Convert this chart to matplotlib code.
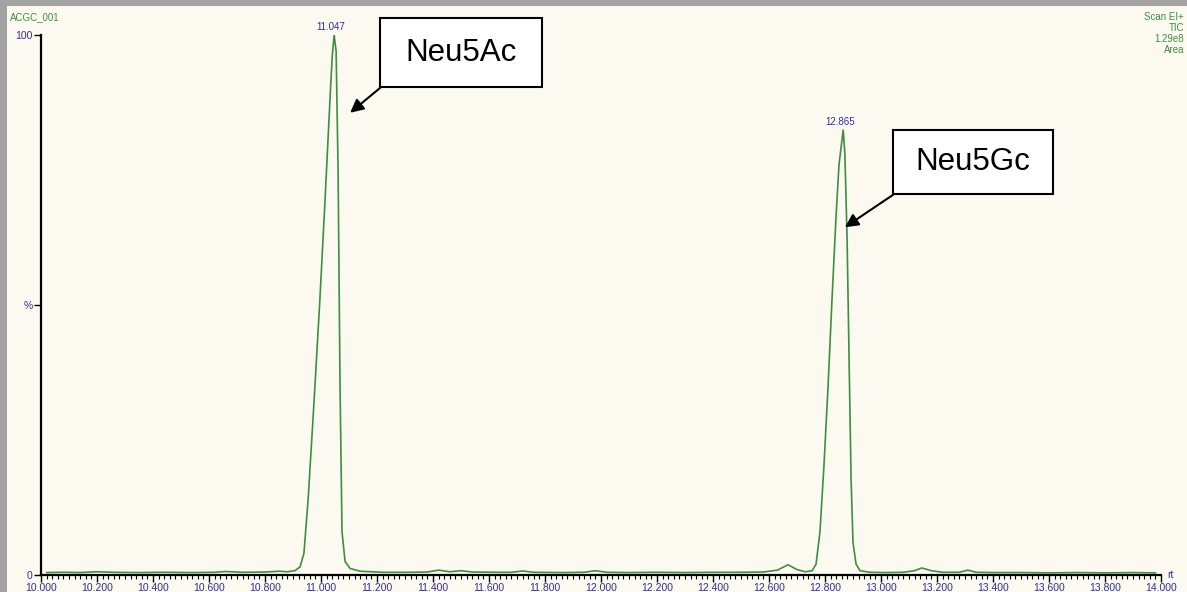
import numpy as np
import matplotlib
matplotlib.use("Agg")
import matplotlib.pyplot as plt
from matplotlib.patches import Rectangle
from matplotlib.ticker import MultipleLocator, FuncFormatter

# TIC trace, retention time (min) vs relative intensity (%)
rt = [10.02, 10.08, 10.14, 10.20, 10.26, 10.34, 10.44, 10.54, 10.62, 10.66,
      10.72, 10.80, 10.85, 10.88, 10.907, 10.925, 10.939, 10.954, 10.975, 10.996,
      11.014, 11.032, 11.040, 11.047, 11.054, 11.061, 11.068, 11.075, 11.086, 11.104,
      11.14, 11.22, 11.32, 11.38, 11.42, 11.46, 11.50, 11.54, 11.62, 11.68,
      11.72, 11.76, 11.86, 11.94, 11.98, 12.02, 12.10, 12.20, 12.30, 12.40,
      12.50, 12.58, 12.63, 12.668, 12.70, 12.73, 12.754, 12.768, 12.782, 12.796,
      12.811, 12.825, 12.839, 12.850, 12.865, 12.871, 12.879, 12.886, 12.893, 12.900,
      12.911, 12.925, 12.96, 13.02, 13.08, 13.12, 13.146, 13.18, 13.22, 13.28,
      13.31, 13.34, 13.40, 13.50, 13.60, 13.70, 13.80, 13.90, 13.98]
tic = [0.45, 0.5, 0.45, 0.6, 0.5, 0.45, 0.5, 0.45, 0.5, 0.65,
       0.5, 0.55, 0.7, 0.6, 0.8, 1.5, 4.0, 14.0, 32.0, 51.0,
       69.0, 88.0, 96.0, 100.0, 97.0, 75.0, 35.0, 8.0, 2.5, 1.2,
       0.7, 0.5, 0.5, 0.55, 0.9, 0.6, 0.8, 0.55, 0.5, 0.5,
       0.75, 0.5, 0.45, 0.5, 0.8, 0.5, 0.45, 0.5, 0.45, 0.5,
       0.5, 0.55, 0.9, 1.9, 1.0, 0.6, 0.8, 2.0, 8.0, 20.0,
       35.0, 51.0, 66.0, 76.0, 82.4, 78.0, 62.0, 40.0, 18.0, 6.0,
       2.0, 0.8, 0.5, 0.45, 0.5, 0.8, 1.3, 0.8, 0.5, 0.5,
       0.9, 0.5, 0.45, 0.45, 0.4, 0.45, 0.4, 0.45, 0.4]

# labelled peaks: apex time, apex height, compound name
peak_rt = [11.047, 12.865]
peak_height = [100.0, 82.4]
peak_names = ["Neu5Ac", "Neu5Gc"]
# label boxes (x0, x1, y_bottom, y_top) in data units, and arrow tips
box_extent = [(11.211, 11.789, 90.4, 103.1), (13.043, 13.614, 70.6, 82.4)]
arrow_tip = [(11.104, 85.6), (12.871, 64.4)]

header_right = ["Scan EI+", "TIC", "1.29e8", "Area"]

W, H = 1187, 592
BG = "#fcfaf0"
GREEN = "#3d8f3d"
BLUE = "#2e2e9e"

fig = plt.figure(figsize=(W / 100, H / 100), dpi=100, facecolor=BG)
ax = fig.add_axes([41 / W, 1 - 575 / H, 1120 / W, 540 / H])
ax.set_facecolor(BG)

ax.plot(rt, tic, color=GREEN, lw=1.2)

ax.set_xlim(10.0, 14.0)
ax.set_ylim(0, 100)
for s in ("top", "right"):
    ax.spines[s].set_visible(False)
for s in ("left", "bottom"):
    ax.spines[s].set_linewidth(1.6)
    ax.spines[s].set_color("black")

ax.xaxis.set_major_locator(MultipleLocator(0.2))
ax.xaxis.set_minor_locator(MultipleLocator(0.02))
ax.xaxis.set_major_formatter(FuncFormatter(lambda v, p: f"{v:.3f}"))
ax.set_yticks([0, 50, 100])
ax.set_yticklabels(["0", "%", "100"])
ax.tick_params(axis="x", which="major", length=5, width=1, pad=1,
               labelsize=7.5, labelcolor=BLUE)
ax.tick_params(axis="x", which="minor", length=3, width=0.8)
ax.tick_params(axis="y", length=5, width=1, pad=1, labelsize=7.5, labelcolor=BLUE)
for lab in ax.get_xticklabels() + ax.get_yticklabels():
    lab.set_fontfamily("Liberation Sans")

# peak apex labels
for x, y in zip(peak_rt, peak_height):
    ax.text(x - 0.012, y + 0.6, f"{x:.3f}", ha="center", va="bottom",
            fontsize=7, color=BLUE, family="Liberation Sans", clip_on=False)

# compound boxes with arrows
for name, (x0, x1, y0, y1), tip in zip(peak_names, box_extent, arrow_tip):
    ax.add_patch(Rectangle((x0, y0), x1 - x0, y1 - y0, facecolor="white",
                           edgecolor="black", lw=1.5, clip_on=False, zorder=5))
    ax.text((x0 + x1) / 2, (y0 + y1) / 2, name, ha="center", va="center",
            fontsize=22.5, family="Liberation Sans", zorder=6, clip_on=False)
    ax.annotate("", xy=tip, xytext=(x0, y0 - 0.2),
                arrowprops=dict(arrowstyle="-|>", color="black", lw=1.5,
                                mutation_scale=20, shrinkA=0, shrinkB=0),
                zorder=6, annotation_clip=False)

ax.text(1.006, 0.0, "rt", transform=ax.transAxes, ha="left", va="center",
        fontsize=7.5, color=BLUE, family="Liberation Sans")

# header text
fig.text(10 / W, 1 - 17 / H, "ACGC_001", ha="left", va="center", fontsize=7,
         color=GREEN, family="Liberation Sans")
for i, t in enumerate(header_right):
    fig.text(1184 / W, 1 - (17 + 11 * i) / H, t, ha="right", va="center",
             fontsize=7, color=GREEN, family="Liberation Sans")

# grey frame at top and left
fig.add_artist(Rectangle((0, 1 - 6 / H), 1, 6 / H, transform=fig.transFigure,
                         facecolor="#a3a3a3", edgecolor="none"))
fig.add_artist(Rectangle((0, 0), 7 / W, 1, transform=fig.transFigure,
                         facecolor="#a3a3a3", edgecolor="none"))

fig.savefig("out.png", dpi=100, facecolor=BG)
